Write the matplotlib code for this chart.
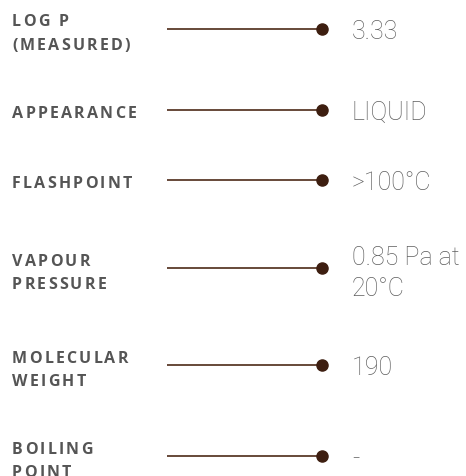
import matplotlib
matplotlib.use("Agg")
import matplotlib.pyplot as plt
from matplotlib.font_manager import FontProperties
from matplotlib.textpath import TextToPath

# ---- data ----
labels = [["LOG P", "(MEASURED)"], ["APPEARANCE"], ["FLASHPOINT"],
          ["VAPOUR", "PRESSURE"], ["MOLECULAR", "WEIGHT"], ["BOILING", "POINT"]]
values = [["3.33"], ["LIQUID"], [">100°C"], ["0.85 Pa at", "20°C"], ["190"], ["-"]]
row_y = [29.5, 110.7, 180.7, 268.8, 366.0, 456.7]

W, H, DPI = 466, 477, 100
fig = plt.figure(figsize=(W / DPI, H / DPI), dpi=DPI)
ax = fig.add_axes([0, 0, 1, 1])
ax.set_xlim(0, W)
ax.set_ylim(H, 0)
ax.axis("off")

label_fp = FontProperties(family=["Open Sans", "DejaVu Sans"], weight="bold", size=11.5)
value_fp = FontProperties(family=["Roboto", "DejaVu Sans"], weight="light", size=18)
t2p = TextToPath()
LABEL_C = "#555555"
VALUE_C = "#5e5e5e"
LINE_C = "#5a3a2a"
DOT_C = "#3d1e10"
tracking = 2.2  # px


def tracked_text(x, y, s, fp, color, track):
    for ch in s:
        ax.text(x, y, ch, fontproperties=fp, color=color, ha="left", va="baseline")
        w, h, d = t2p.get_text_width_height_descent(ch, fp, ismath=False)
        x += w * DPI / 72.0 + track


for labs, vals, y in zip(labels, values, row_y):
    # label
    if len(labs) == 1:
        tracked_text(12, y + 7, labs[0], label_fp, LABEL_C, tracking)
    else:
        tracked_text(12, y - 3, labs[0], label_fp, LABEL_C, tracking)
        tracked_text(12, y + 20.5, labs[1], label_fp, LABEL_C, tracking)
    # connector
    ax.plot([167, 322], [y, y], color=LINE_C, lw=1.3, solid_capstyle="butt")
    ax.plot([322], [y], "o", color=DOT_C, markersize=8)
    # value
    if len(vals) == 1:
        ax.text(352, y + 9.5, vals[0], fontproperties=value_fp, color=VALUE_C,
                ha="left", va="baseline")
    else:
        ax.text(352, y - 4, vals[0], fontproperties=value_fp, color=VALUE_C,
                ha="left", va="baseline")
        ax.text(352, y + 27, vals[1], fontproperties=value_fp, color=VALUE_C,
                ha="left", va="baseline")

fig.savefig("out.png", dpi=DPI)
